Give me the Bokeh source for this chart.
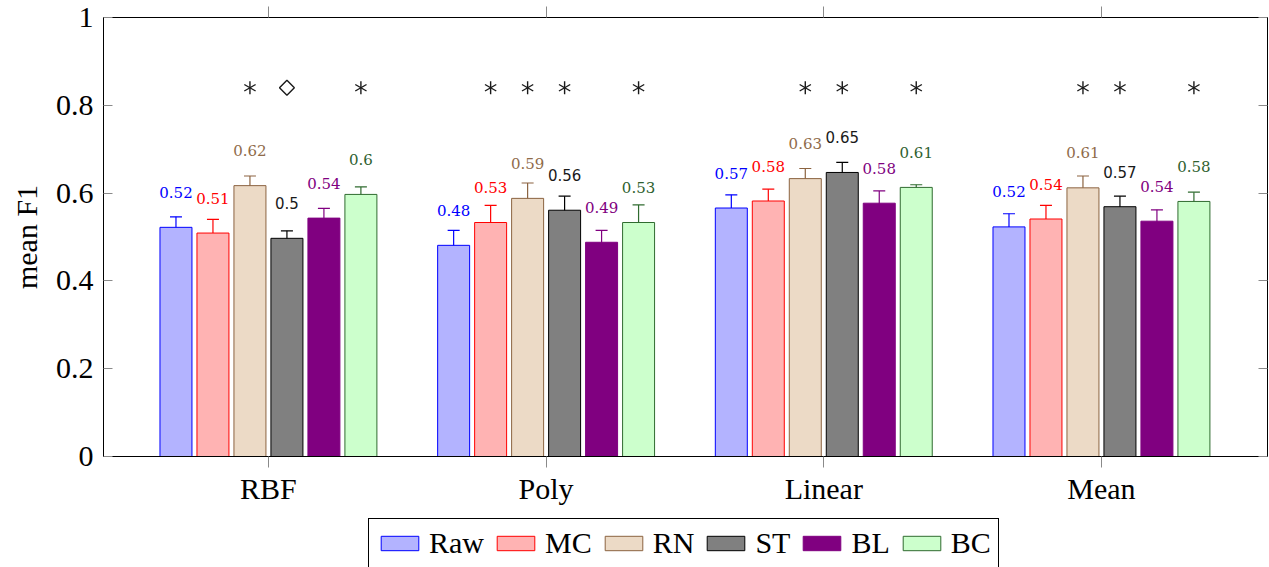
from bokeh.plotting import figure
from bokeh.layouts import column
from bokeh.models import (ColumnDataSource, Whisker, TeeHead, FixedTicker, LinearAxis,
                          Range1d, Legend, LegendItem, CustomJSTickFormatter, NumeralTickFormatter)
from bokeh.core.properties import value
from bokeh.embed import file_html
from bokeh.resources import INLINE

# ---------------- data ----------------
groups = ["RBF", "Poly", "Linear", "Mean"]
series = ["Raw", "MC", "RN", "ST", "BL", "BC"]

raw = [0.522, 0.481, 0.566, 0.523]
raw_err = [0.024, 0.034, 0.030, 0.030]
mc = [0.509, 0.533, 0.582, 0.541]
mc_err = [0.031, 0.039, 0.027, 0.031]
rn = [0.617, 0.588, 0.633, 0.612]
rn_err = [0.022, 0.035, 0.023, 0.027]
st = [0.497, 0.561, 0.647, 0.569]
st_err = [0.017, 0.032, 0.023, 0.024]
bl = [0.543, 0.488, 0.577, 0.536]
bl_err = [0.022, 0.027, 0.028, 0.026]
bc = [0.597, 0.533, 0.613, 0.581]
bc_err = [0.017, 0.040, 0.006, 0.021]

# significance marks above each bar (per group, per series)
sig_rbf = ["", "", "*", "◇", "", "*"]
sig_poly = ["", "*", "*", "*", "", "*"]
sig_linear = ["", "", "*", "*", "", "*"]
sig_mean = ["", "", "*", "*", "", "*"]
sig_level = 0.84

y_ticks = [0, 0.2, 0.4, 0.6, 0.8, 1]

# ---------------- styles ----------------
fills = ["#b3b3ff", "#ffb3b3", "#ecdac6", "#808080", "#800080", "#ccffcc"]
edges = ["#0000ff", "#ff0000", "#8b6340", "#000000", "#800080", "#2f6b2f"]
label_colors = ["#0000ff", "#ff0000", "#8f6b4a", "#1a1a1a", "#800080", "#2f5f2f"]
label_fonts = ["DejaVu Serif", "DejaVu Serif", "DejaVu Serif", "DejaVu Sans", "DejaVu Serif", "DejaVu Serif"]
step = 0.1332
bar_w = 0.1152
SERIF = "Liberation Serif"
TICK = "#8a8a8a"

values = [raw, mc, rn, st, bl, bc]
errors = [raw_err, mc_err, rn_err, st_err, bl_err, bc_err]
sigs = [sig_rbf, sig_poly, sig_linear, sig_mean]

p = figure(width=1269, height=518,
           x_range=Range1d(-0.594, 3.598), y_range=Range1d(0, 1),
           output_backend="svg", toolbar_location=None,
           min_border_left=103, min_border_right=2, min_border_top=17, min_border_bottom=62)
p.xgrid.visible = False
p.ygrid.visible = False
p.outline_line_color = "black"
p.outline_line_width = 1
p.background_fill_color = "white"
p.border_fill_color = "white"

# legend strip below the plot (its own small figure, frame aligned with the plot)
lg = figure(width=1269, height=49, output_backend="svg", toolbar_location=None,
            x_axis_type=None, y_axis_type=None,
            x_range=p.x_range, y_range=Range1d(5, 6),   # bars fall outside this strip's view
            min_border=0, min_border_left=0, min_border_right=0, min_border_top=0, min_border_bottom=0)
lg.xgrid.visible = False
lg.ygrid.visible = False
lg.outline_line_color = None
lg.background_fill_color = "white"
lg.border_fill_color = "white"

swatches = []
for i, name in enumerate(series):
    off = (i - 2.5) * step
    xs = [g + off for g in range(len(groups))]
    vals = values[i]
    errs = errors[i]
    src = ColumnDataSource(dict(
        x=xs, top=vals,
        upper=[v + e for v, e in zip(vals, errs)],
        lower=[v - e for v, e in zip(vals, errs)],
        label=[f"{round(v, 2):g}" for v in vals],
    ))
    p.vbar(x="x", top="top", bottom=0, width=bar_w, source=src,
           fill_color=fills[i], line_color=edges[i], line_width=1)
    w = Whisker(source=src, base="x", upper="upper", lower="lower", dimension="height",
                line_color=edges[i], line_width=1.2,
                upper_head=TeeHead(size=12, line_color=edges[i], line_width=1.2),
                lower_head=TeeHead(size=12, line_color=edges[i], line_width=1.2))
    p.add_layout(w)
    p.text(x="x", y="top", text="label", source=src, y_offset=-35,
           text_align="center", text_baseline="middle",
           text_font=value(label_fonts[i]), text_font_size="15px",
           text_color=label_colors[i])
    swatches.append(lg.vbar(x="x", top="top", bottom=0, width=bar_w, source=src,
                            fill_color=fills[i], line_color=edges[i], line_width=1))

# significance marks
star_x, diam_x = [], []
for g, row in enumerate(sigs):
    for i, s in enumerate(row):
        xpos = g + (i - 2.5) * step
        if s == "*":
            star_x.append(xpos)
        elif s == "◇":
            diam_x.append(xpos)
for a in (90, 30, -30):
    p.scatter(x=star_x, y=[sig_level] * len(star_x), marker="dash", size=13,
              angle=a, angle_units="deg", line_color="#1a1a1a", line_width=1.4)
p.scatter(x=diam_x, y=[sig_level] * len(diam_x), marker="square", size=10.5,
          angle=45, angle_units="deg", fill_color=None, line_color="#1a1a1a", line_width=1.4)

# ---------------- axes ----------------
xa = p.xaxis[0]
xa.ticker = FixedTicker(ticks=list(range(len(groups))))
xa.formatter = CustomJSTickFormatter(args=dict(names=groups), code="return names[Math.round(tick)];")
xa.major_tick_in = 0
xa.major_tick_out = 11
xa.major_tick_line_color = TICK
xa.minor_tick_line_color = None
xa.axis_line_color = "black"
xa.major_label_text_font = SERIF
xa.major_label_text_font_size = "30px"
xa.major_label_text_color = "black"
xa.major_label_standoff = 4

ya = p.yaxis[0]
ya.ticker = FixedTicker(ticks=y_ticks)
ya.formatter = NumeralTickFormatter(format="0.[0]")
ya.major_tick_in = 9
ya.major_tick_out = 0
ya.major_tick_line_color = TICK
ya.minor_tick_line_color = None
ya.axis_line_color = "black"
ya.major_label_text_font = SERIF
ya.major_label_text_font_size = "30px"
ya.major_label_text_color = "black"
ya.major_label_standoff = 10
ya.axis_label = "mean F1"
ya.axis_label_text_font = SERIF
ya.axis_label_text_font_size = "30px"
ya.axis_label_text_font_style = "normal"
ya.axis_label_text_color = "black"
ya.axis_label_standoff = 10

blank = CustomJSTickFormatter(code="return '';")
top_axis = LinearAxis(ticker=FixedTicker(ticks=list(range(len(groups)))), formatter=blank,
                      major_tick_in=0, major_tick_out=11, major_tick_line_color=TICK,
                      minor_tick_line_color=None, axis_line_color="black",
                      major_label_text_font_size="1px", major_label_standoff=0)
p.add_layout(top_axis, "above")
right_axis = LinearAxis(ticker=FixedTicker(ticks=y_ticks), formatter=blank,
                        major_tick_in=9, major_tick_out=0, major_tick_line_color=TICK,
                        minor_tick_line_color=None, axis_line_color="black",
                        major_label_text_font_size="1px", major_label_standoff=0)
p.add_layout(right_axis, "right")

# ---------------- legend ----------------
items = [LegendItem(label=s, renderers=[r]) for s, r in zip(series, swatches)]
legend = Legend(items=items, orientation="horizontal", location=(265, -1), margin=0,
                label_text_font=SERIF, label_text_font_size="30px", label_text_color="black",
                glyph_width=47, glyph_height=18, label_standoff=6, spacing=8, padding=7,
                border_line_color="black", border_line_width=1, border_line_alpha=1,
                background_fill_color="white", background_fill_alpha=1)
lg.add_layout(legend, "center")

layout = column(p, lg, spacing=0)
open("out.html", "w").write(file_html(layout, INLINE))
